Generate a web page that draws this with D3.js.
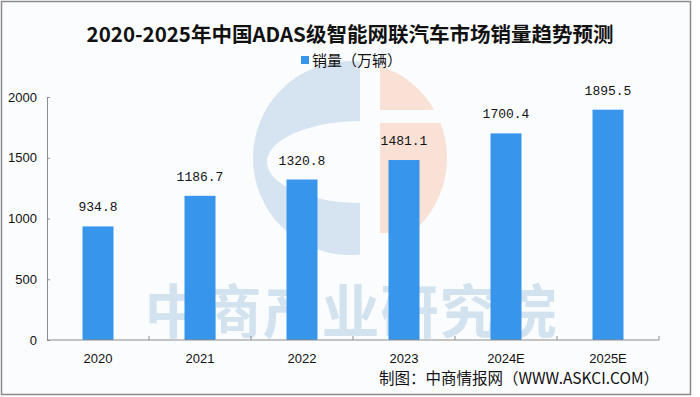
<!DOCTYPE html>
<html>
<head>
<meta charset="utf-8">
<script src="https://cdn.jsdelivr.net/npm/d3@7"></script>
<style>
body{margin:0;background:#fff;}
</style>
</head>
<body>
<script>
var width = 700;
var height = 397;

var categories = ["2020","2021","2022","2023","2024E","2025E"];
var sales = [934.8,1186.7,1320.8,1481.1,1700.4,1895.5];
var yTicks = [0,500,1000,1500,2000];

var title = "2020-2025年中国ADAS级智能网联汽车市场销量趋势预测";
var legendLabel = "销量（万辆）";
var source = "制图：中商情报网（WWW.ASKCI.COM）";

var bg = "#fbfcfe";

var svg = d3.select("body")
.append("svg")
.attr("width",width)
.attr("height",height);

// frame
svg.append("rect")
.attr("x",1.5)
.attr("y",1.5)
.attr("width",689)
.attr("height",393)
.attr("fill",bg)
.attr("stroke","#8a8a8a")
.attr("stroke-width",1.5);

// watermark logo
var defs = svg.append("defs");
defs.append("clipPath").attr("id","clipBlue")
.append("rect").attr("x",240).attr("y",50).attr("width",120).attr("height",220);
defs.append("clipPath").attr("id","clipOrange")
.append("rect").attr("x",380).attr("y",50).attr("width",80).attr("height",183);

svg.append("circle")
.attr("cx",350).attr("cy",158).attr("r",97)
.attr("fill","#d6e4f1")
.attr("clip-path","url(#clipBlue)");
svg.append("ellipse")
.attr("cx",362).attr("cy",162).attr("rx",95).attr("ry",41)
.attr("fill",bg);
svg.append("circle")
.attr("cx",350).attr("cy",158).attr("r",97)
.attr("fill","#f9e1d5")
.attr("clip-path","url(#clipOrange)");
svg.append("rect")
.attr("x",378).attr("y",110).attr("width",75).attr("height",13)
.attr("fill",bg);

svg.append("text")
.attr("x",351)
.attr("y",333)
.attr("text-anchor","middle")
.attr("font-family","Noto Sans CJK SC")
.attr("font-size","58px")
.attr("font-weight","bold")
.attr("letter-spacing","1px")
.attr("fill","#d3e2ef")
.text("中商产业研究院");

// scales
var x = d3.scaleBand()
.domain(categories)
.range([47,659]);

var y = d3.scaleLinear()
.domain([0,2000])
.range([340,97]);

var barWidth = 31;

svg.selectAll(".bar")
.data(sales)
.enter()
.append("rect")
.attr("class","bar")
.attr("x",function(d,i){
	return x(categories[i]) + x.bandwidth()/2 - barWidth/2;
})
.attr("y",function(d){
	return y(d);
})
.attr("width",barWidth)
.attr("height",function(d){
	return y(0) - y(d);
})
.attr("fill","#3795eb");

// y axis
var yAxis = d3.axisLeft(y)
.tickValues(yTicks)
.tickSize(-3)
.tickPadding(10)
.tickFormat(d3.format("d"));

var gy = svg.append("g")
.attr("transform","translate(47,0)")
.call(yAxis);
gy.select(".domain").attr("stroke","#8c8c8c");
gy.selectAll(".tick line").attr("stroke","#8c8c8c");
gy.selectAll(".tick text")
.attr("font-family","Liberation Sans")
.attr("font-size","13px")
.attr("fill","#111");

// x axis
var gx = svg.append("g")
.attr("transform","translate(0,340)");
gx.append("line")
.attr("x1",47)
.attr("x2",659)
.attr("stroke","#8c8c8c");
gx.selectAll(".xtick")
.data(categories)
.enter()
.append("line")
.attr("x1",function(d){ return x(d) + x.bandwidth(); })
.attr("x2",function(d){ return x(d) + x.bandwidth(); })
.attr("y1",0)
.attr("y2",-4)
.attr("stroke","#8c8c8c");
gx.selectAll(".xlabel")
.data(categories)
.enter()
.append("text")
.attr("x",function(d){ return x(d) + x.bandwidth()/2; })
.attr("y",23)
.attr("text-anchor","middle")
.attr("font-family","Liberation Sans")
.attr("font-size","13px")
.attr("fill","#111")
.text(function(d){ return d; });

// value labels
svg.selectAll(".val")
.data(sales)
.enter()
.append("text")
.attr("x",function(d,i){ return x(categories[i]) + x.bandwidth()/2; })
.attr("y",function(d){ return y(d) - 15; })
.attr("text-anchor","middle")
.attr("font-family","Liberation Mono")
.attr("font-size","13px")
.attr("fill","#111")
.text(function(d){ return d.toFixed(1); });

// title
svg.append("text")
.attr("x",350)
.attr("y",42)
.attr("text-anchor","middle")
.attr("font-family","Noto Sans CJK SC")
.attr("font-size","20.5px")
.attr("font-weight","bold")
.attr("fill","#111")
.text(title);

// legend
svg.append("rect")
.attr("x",301)
.attr("y",56)
.attr("width",8)
.attr("height",8)
.attr("fill","#3795eb");
svg.append("text")
.attr("x",312)
.attr("y",66)
.attr("font-family","Noto Sans CJK SC")
.attr("font-size","15px")
.attr("fill","#111")
.text(legendLabel);

// source
svg.append("text")
.attr("x",659)
.attr("y",384)
.attr("text-anchor","end")
.attr("font-family","Noto Sans CJK SC")
.attr("font-size","15.5px")
.attr("fill","#111")
.text(source);
</script>
</body>
</html>
